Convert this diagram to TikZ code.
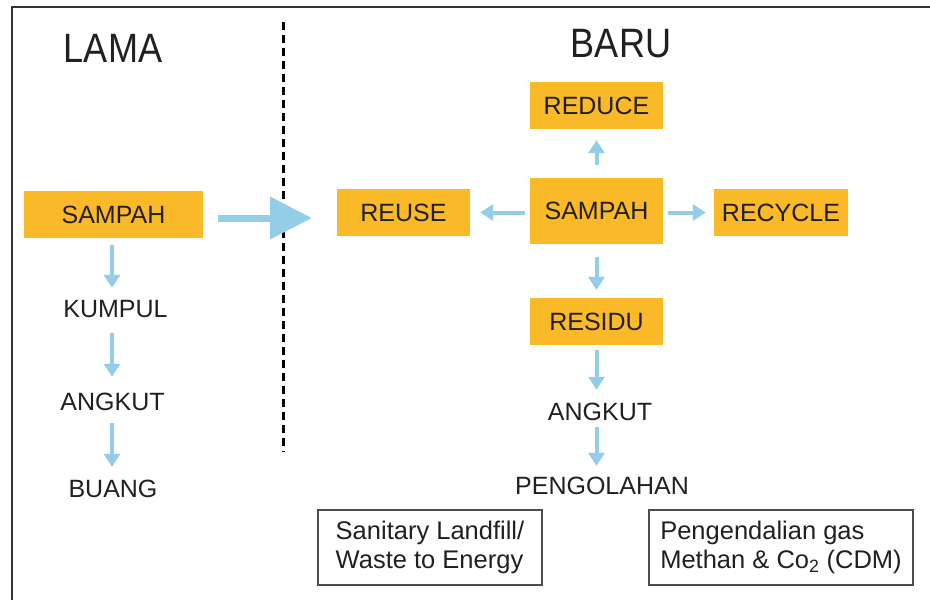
\documentclass[tikz,border=0pt]{standalone}
\usepackage{fontspec}
\setmainfont{Liberation Sans}
\newfontfamily\titlefont[FakeStretch=0.88]{Liberation Sans}
\usetikzlibrary{arrows.meta}
\definecolor{boxorange}{HTML}{F9B928}
\definecolor{flowblue}{HTML}{93CDE8}
\definecolor{inkblack}{HTML}{231F20}

\begin{document}
\begin{tikzpicture}[x=1pt, y=-1pt,
  box/.style={fill=boxorange, inner sep=0pt, minimum width=133pt, minimum height=47pt,
    text=inkblack, font=\fontsize{25}{30}\selectfont},
  lbl/.style={inner sep=0pt, text height=18pt, text depth=0pt, text=inkblack,
    font=\fontsize{25}{30}\selectfont},
  title/.style={inner sep=0pt, text height=30pt, text depth=0pt, text=inkblack,
    font=\titlefont\fontsize{41}{48}\selectfont},
  note/.style={draw=gray!60!black, line width=1.3pt, inner sep=0pt,
    minimum height=75pt, align=left, text=inkblack, font=\fontsize{25.5}{29}\selectfont},
  flow/.style={draw=flowblue, line width=4pt, -{Triangle[width=16pt,length=13pt]}},
  bigflow/.style={draw=flowblue, line width=7pt, -{Triangle[width=41pt,length=42pt]}}]

  \useasboundingbox (0,0) rectangle (930,600);
  % frame
  \draw[gray!40!black, line width=2pt] (12,600) -- (12,7) -- (930,7);

  % old way
  \node[title] (lama) at (113,47) {LAMA};
  \node[box, minimum width=179pt] (sampahL) at (113.5,214.5) {SAMPAH};
  \node[lbl] (kumpul) at (115.5,308) {KUMPUL};
  \node[lbl] (angkutL) at (112.5,401) {ANGKUT};
  \node[lbl] (buang) at (113,488) {BUANG};

  \draw[flow, shorten <=7pt, shorten >=11pt] ([xshift=-1.5pt]sampahL.south) -- ([xshift=-1.5pt]sampahL.south |- kumpul.north);
  \draw[flow, shorten <=16pt, shorten >=15pt] ([xshift=-1.5pt]sampahL.south |- kumpul.south) -- ([xshift=-1.5pt]sampahL.south |- angkutL.north);
  \draw[flow, shorten <=13pt, shorten >=12pt] ([xshift=-1.5pt]sampahL.south |- angkutL.south) -- ([xshift=-1.5pt]sampahL.south |- buang.north);

  % divider
  \draw[black, line width=3pt, dash pattern=on 8pt off 5pt] (283,22) -- (283,452);
  \coordinate (bigtail) at (218,218);
  \coordinate (bighead) at (312,218);
  \draw[bigflow] (bigtail) -- (bighead);

  % new way
  \node[title] (baru) at (621,42) {BARU};
  \node[box] (reduce) at (596.5,105.5) {REDUCE};
  \node[box, minimum height=66pt] (sampahR) at (596.5,211) {SAMPAH};
  \node[box] (reuse) at (403.5,212.5) {REUSE};
  \node[box, minimum width=134pt] (recycle) at (781,212.5) {RECYCLE};
  \node[box] (residu) at (596.5,321.5) {RESIDU};
  \node[lbl] (angkutR) at (600,411) {ANGKUT};
  \node[lbl] (pengolahan) at (602,485) {PENGOLAHAN};

  \draw[flow, shorten <=13pt, shorten >=11pt] (sampahR.north) -- (reduce.south);
  \draw[flow, shorten <=5pt, shorten >=10pt] (sampahR.west |- reuse.east) -- (reuse.east);
  \draw[flow, shorten <=5pt, shorten >=8pt] (sampahR.east |- recycle.west) -- (recycle.west);
  \draw[flow, shorten <=13pt, shorten >=8pt] (sampahR.south) -- (residu.north);
  \draw[flow, shorten <=5pt, shorten >=12pt] (residu.south) -- (residu.south |- angkutR.north);
  \draw[flow, shorten <=7pt, shorten >=10pt] (residu.south |- angkutR.south) -- (residu.south |- pengolahan.north);

  % outcomes
  \node[note, minimum width=224pt] (landfill) at (430,547.5) {Sanitary Landfill/\\Waste to Energy};
  \node[note, minimum width=264pt] (cdm) at (781,547.5) {Pengendalian gas\\Methan \& Co\textsubscript{2} (CDM)};
\end{tikzpicture}
\end{document}
